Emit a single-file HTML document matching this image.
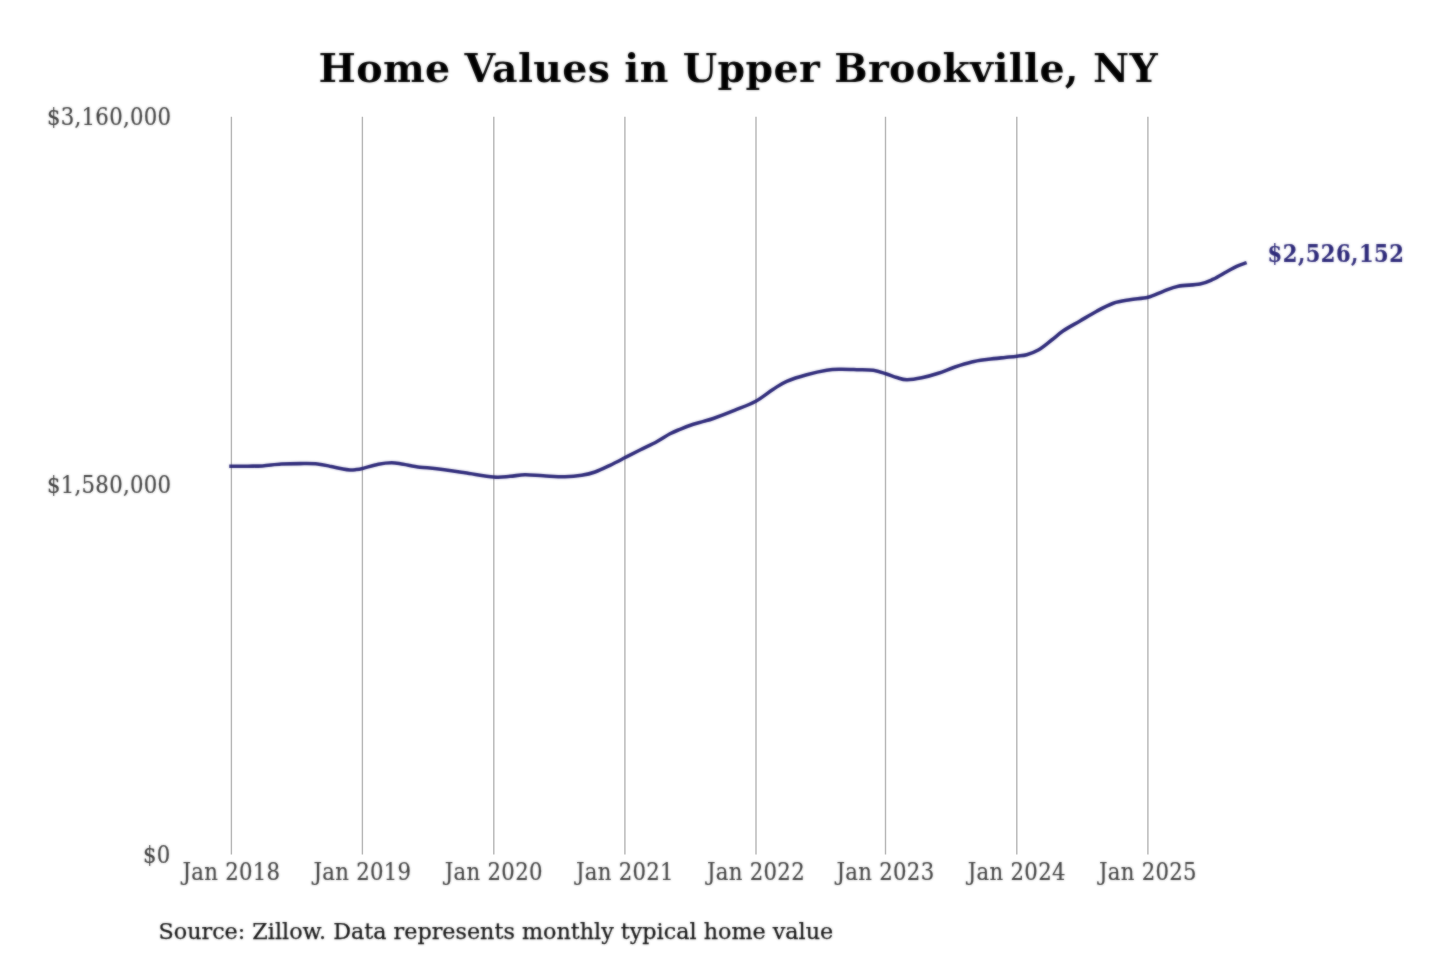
<!DOCTYPE html>
<html><head><meta charset="utf-8"><title>Home Values in Upper Brookville, NY</title>
<style>
html,body{margin:0;padding:0;background:#fff;}
svg{display:block;font-family:"DejaVu Serif","Liberation Serif",serif;}
.grid line{stroke:#b6b6b6;stroke-width:1.4;}
.ax text{font-family:"DejaVu Serif Condensed","DejaVu Serif","Liberation Serif",serif;font-stretch:condensed;font-size:23.6px;letter-spacing:0.3px;fill:#3c3c3c;stroke:#3c3c3c;stroke-width:0.15;}
</style></head><body>
<svg width="1440" height="960" viewBox="0 0 1440 960">
<defs><filter id="soft" x="-2%" y="-2%" width="104%" height="104%" color-interpolation-filters="sRGB"><feGaussianBlur stdDeviation="0.8" result="b"/><feComposite in="SourceGraphic" in2="b" operator="arithmetic" k1="0" k2="0.45" k3="0.55" k4="0"/></filter></defs>
<rect width="1440" height="960" fill="#fff"/>
<g class="grid">
<line x1="231.4" y1="116.8" x2="231.4" y2="854.6" />
<line x1="362.4" y1="116.8" x2="362.4" y2="854.6" />
<line x1="493.8" y1="116.8" x2="493.8" y2="854.6" />
<line x1="624.9" y1="116.8" x2="624.9" y2="854.6" />
<line x1="756.0" y1="116.8" x2="756.0" y2="854.6" />
<line x1="885.5" y1="116.8" x2="885.5" y2="854.6" />
<line x1="1016.8" y1="116.8" x2="1016.8" y2="854.6" />
<line x1="1147.9" y1="116.8" x2="1147.9" y2="854.6" />
</g>
<g filter="url(#soft)">
<text x="738.3" y="81.6" letter-spacing="0.33" text-anchor="middle" font-size="39.5" font-weight="bold" fill="#000">Home Values in Upper Brookville, NY</text>
<g class="ax">
<text x="171.4" y="125.4" text-anchor="end">$3,160,000</text>
<text x="171.4" y="492.5" text-anchor="end">$1,580,000</text>
<text x="170.6" y="863.4" text-anchor="end">$0</text>
<text x="231.4" y="879.6" text-anchor="middle">Jan 2018</text>
<text x="362.4" y="879.6" text-anchor="middle">Jan 2019</text>
<text x="493.8" y="879.6" text-anchor="middle">Jan 2020</text>
<text x="624.9" y="879.6" text-anchor="middle">Jan 2021</text>
<text x="756.0" y="879.6" text-anchor="middle">Jan 2022</text>
<text x="885.5" y="879.6" text-anchor="middle">Jan 2023</text>
<text x="1016.8" y="879.6" text-anchor="middle">Jan 2024</text>
<text x="1147.9" y="879.6" text-anchor="middle">Jan 2025</text>
</g>
<path d="M231.0,466.3 C233.8,466.3 242.8,466.3 248.0,466.2 C253.2,466.1 256.9,466.2 262.5,465.9 C268.1,465.5 275.1,464.5 281.3,464.1 C287.6,463.7 294.0,463.6 300.0,463.6 C306.0,463.6 312.3,463.4 317.5,463.9 C322.7,464.4 327.1,465.6 331.3,466.5 C335.6,467.4 339.9,468.4 343.0,469.0 C346.1,469.6 347.8,469.8 350.0,469.9 C352.2,470.0 353.9,469.8 356.0,469.6 C358.1,469.4 358.8,469.4 362.5,468.5 C366.2,467.6 373.4,465.2 378.3,464.2 C383.2,463.2 387.5,462.7 391.7,462.7 C395.9,462.7 398.6,463.6 403.3,464.3 C408.0,465.1 414.4,466.5 420.0,467.2 C425.6,467.9 429.2,467.8 436.7,468.7 C444.2,469.6 455.5,471.3 465.0,472.7 C474.5,474.1 486.2,476.4 493.7,477.0 C501.2,477.6 504.8,476.7 510.0,476.3 C515.2,475.9 519.5,474.9 525.0,474.8 C530.5,474.7 536.6,475.5 543.3,475.8 C550.0,476.1 558.6,476.8 565.0,476.7 C571.4,476.6 576.7,476.1 581.7,475.3 C586.7,474.5 590.3,473.7 595.0,472.0 C599.7,470.3 605.0,467.7 610.0,465.3 C615.0,462.9 619.7,460.4 624.7,457.8 C629.7,455.2 634.7,452.7 640.0,450.0 C645.3,447.3 651.7,444.4 656.7,441.7 C661.7,439.0 666.1,435.9 670.0,433.8 C673.9,431.7 676.1,430.9 680.0,429.3 C683.9,427.7 689.4,425.6 693.3,424.3 C697.2,423.0 700.2,422.4 703.5,421.4 C706.8,420.4 708.0,420.4 713.3,418.5 C718.5,416.6 727.9,413.0 735.0,410.1 C742.1,407.2 749.4,404.7 755.8,401.2 C762.2,397.7 768.1,392.5 773.3,389.2 C778.4,385.9 781.1,383.7 786.7,381.3 C792.3,378.9 800.0,376.5 806.7,374.7 C813.4,372.9 821.2,371.2 826.7,370.3 C832.2,369.4 835.0,369.4 840.0,369.3 C845.0,369.2 851.2,369.5 856.7,369.7 C862.2,369.9 868.4,369.6 873.3,370.3 C878.1,371.0 881.9,372.5 885.8,373.7 C889.7,374.9 893.2,376.5 896.7,377.5 C900.2,378.5 902.5,379.6 906.7,379.7 C910.9,379.8 916.4,378.9 921.7,377.8 C927.0,376.7 932.8,375.1 938.3,373.3 C943.8,371.5 949.4,368.9 955.0,367.0 C960.6,365.1 966.2,363.3 971.7,362.0 C977.2,360.7 982.8,360.1 988.3,359.3 C993.8,358.6 1000.2,358.0 1005.0,357.5 C1009.8,357.0 1013.4,356.7 1017.0,356.2 C1020.6,355.7 1023.2,355.7 1026.7,354.7 C1030.2,353.7 1034.1,352.4 1038.3,350.0 C1042.5,347.6 1047.5,343.2 1051.7,340.0 C1055.9,336.8 1058.6,334.0 1063.3,330.8 C1068.0,327.6 1074.4,324.3 1080.0,321.0 C1085.6,317.7 1091.2,314.2 1096.7,311.2 C1102.2,308.2 1107.8,305.1 1113.3,303.2 C1118.8,301.3 1124.2,300.7 1130.0,299.7 C1135.8,298.7 1142.5,298.7 1148.0,297.3 C1153.5,295.9 1158.2,293.2 1163.3,291.3 C1168.3,289.4 1172.2,287.4 1178.3,286.2 C1184.4,285.0 1194.2,285.2 1200.0,284.0 C1205.8,282.8 1208.8,281.2 1213.3,279.2 C1217.8,277.1 1222.8,273.8 1226.7,271.7 C1230.6,269.6 1233.7,267.7 1236.7,266.3 C1239.8,264.9 1243.6,263.7 1245.0,263.2" fill="none" stroke="#2b2778" stroke-width="3.55" stroke-linejoin="round" stroke-linecap="square"/>
<text x="1267.6" y="261.8" font-family="'DejaVu Serif Condensed','DejaVu Serif','Liberation Serif',serif" font-stretch="condensed" font-size="23.4" letter-spacing="0.5" font-weight="bold" fill="#2b2778" stroke="#2b2778" stroke-width="0.15">$2,526,152</text>
<text x="158.5" y="939" font-size="22.28" fill="#101010" stroke="#101010" stroke-width="0.25">Source: Zillow. Data represents monthly typical home value</text>
</g>
</svg>
</body></html>
